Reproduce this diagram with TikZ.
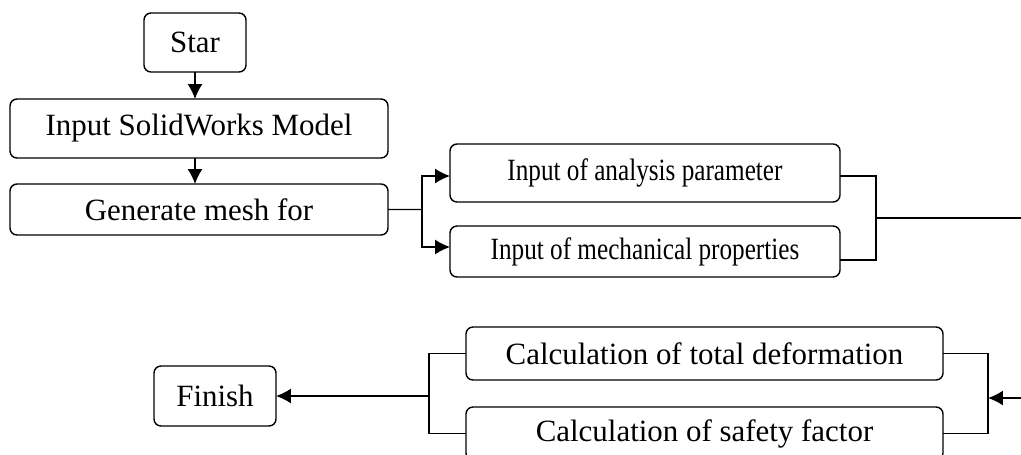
\documentclass[tikz,border=0pt]{standalone}
\usepackage{graphicx}
\usepackage{fontspec}
\setmainfont{Liberation Serif}
\usetikzlibrary{arrows.meta,positioning}

\begin{document}
\begin{tikzpicture}[every node/.style={outer sep=0pt},line width=0.8pt,
    stepbox/.style={draw,line width=0.8pt,rounded corners=0.14cm,inner sep=0pt,
    font=\fontsize{17.6}{20}\selectfont},
    flow/.style={-{Latex[length=8.5pt,width=8.5pt]}}]
   \clip (0,0) rectangle (20.42,-9.08);

     \node[stepbox,minimum width=2.04cm,minimum height=1.18cm] (star) at (3.9,-0.85) {Star};
     \node[stepbox,minimum width=7.56cm,minimum height=1.18cm,below=0.54cm of
     star,xshift=0.08cm] (model) {Input SolidWorks Model};
     \node[stepbox,minimum width=7.56cm,minimum height=1.02cm,below=0.52cm of
     model] (mesh) {Generate mesh for};
     \node[stepbox,minimum width=7.8cm,minimum height=1.16cm] (param) at (12.9,-3.46)
      {\scalebox{0.815}[1]{Input of analysis parameter}};
     \node[stepbox,minimum width=7.8cm,minimum height=1.02cm] (mech) at (12.9,-5.03)
      {\raisebox{-0.12cm}{\scalebox{0.815}[1]{Input of mechanical properties}}};
     \node[stepbox,minimum width=9.54cm,minimum height=1.06cm] (defo) at (14.09,-7.07)
      {Calculation of total deformation};
     \node[stepbox,minimum width=9.54cm,minimum height=1.06cm] (safety) at (14.09,-8.67)
      {Calculation of safety factor};
     \node[stepbox,minimum width=2.44cm,minimum height=1.2cm] (finish) at (4.3,-7.92) {Finish};

     \draw[flow] (star.south) -- (star.south|-model.north);
     \draw[flow] (model.south-|star.south) -- (star.south|-mesh.north);

     % branch to the two inputs
     \coordinate (split) at (8.44,-4.19);
     \draw (mesh.east) -- (split);
     \draw[flow] (split) |- ([yshift=-0.06cm]param.west);
     \draw[flow] (split) |- ([yshift=0.09cm]mech.west);

     \coordinate (joinin) at (17.52,-4.36);
     \coordinate (outin) at (20.42,-4.36);
     \draw ([yshift=-0.06cm]param.east) -| (joinin);
     \draw ([yshift=-0.17cm]mech.east) -| (joinin);
     \draw (joinin) -- (outin);

     % results back to finish
     \coordinate (joincalc) at (19.76,-7.96);
     \coordinate (incalc) at (20.42,-7.96);
     \draw (defo.east) -| (joincalc);
     \draw (safety.east) -| (joincalc);
     \draw[flow] (incalc) -- (joincalc);

     \coordinate (joinend) at (8.58,-7.92);
     \draw (defo.west) -| (joinend);
     \draw (safety.west) -| (joinend);
     \draw[flow] (joinend) -- (finish.east);
   \end{tikzpicture}
\end{document}
